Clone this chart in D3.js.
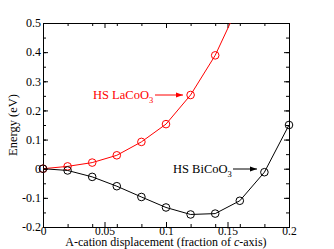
<!DOCTYPE html>
<html>
<head>
<meta charset="utf-8">
<script src="https://cdn.jsdelivr.net/npm/d3@7"></script>
<style>
  body { margin: 0; background: #fff; }
  svg text { font-family: "Liberation Serif", "Times New Roman", serif; }
</style>
</head>
<body>
<div id="container"></div>
<script>
const displacement = [0, 0.02, 0.04, 0.06, 0.08, 0.1, 0.12, 0.14, 0.16, 0.18, 0.2];
const laCoO3 = [0, 0.008, 0.021, 0.046, 0.092, 0.153, 0.253, 0.389, 0.57];
const biCoO3 = [0, -0.006, -0.028, -0.06, -0.097, -0.133, -0.157, -0.154, -0.11, -0.012, 0.15];
const xTicks = [0, 0.05, 0.1, 0.15, 0.2];
const yTicks = [-0.2, -0.1, 0, 0.1, 0.2, 0.3, 0.4, 0.5];

const serif = '"Liberation Serif", "Times New Roman", serif';
const w = 334;
const h = 249;
const margin = { top: 23, right: 45, bottom: 22, left: 43 };

const svg = d3
  .select("#container")
  .append("svg")
  .attr("width", w)
  .attr("height", h)
  .attr("font-family", serif);

//THE SCALES
const x = d3.scaleLinear().domain([0, 0.2]).range([margin.left, w - margin.right]);
const y = d3.scaleLinear().domain([-0.2, 0.5]).range([h - margin.bottom, margin.top]);

const fmt = d => d === 0 ? "0" : String(+d.toFixed(2));

//Minor ticks first, then major ticks with labels (all pointing inwards)
svg.append("g")
   .attr("transform", `translate(0, ${y(-0.2)})`)
   .call(d3.axisBottom(x).ticks(8).tickSize(-3).tickFormat(""));
svg.append("g")
   .attr("transform", `translate(0, ${y(0.5)})`)
   .call(d3.axisTop(x).ticks(8).tickSize(-3).tickFormat(""));
svg.append("g")
   .attr("transform", `translate(${x(0)}, 0)`)
   .call(d3.axisLeft(y).ticks(14).tickSize(-3).tickFormat(""));
svg.append("g")
   .attr("transform", `translate(${x(0.2)}, 0)`)
   .call(d3.axisRight(y).ticks(14).tickSize(-3).tickFormat(""));

svg.append("g")
   .attr("class", "xaxis")
   .attr("transform", `translate(0, ${y(-0.2)})`)
   .call(d3.axisBottom(x).tickValues(xTicks).tickSize(-5).tickPadding(0.5).tickFormat(fmt));
svg.append("g")
   .attr("transform", `translate(0, ${y(0.5)})`)
   .call(d3.axisTop(x).tickValues(xTicks).tickSize(-5).tickFormat(""));
svg.append("g")
   .attr("class", "yaxis")
   .attr("transform", `translate(${x(0)}, 0)`)
   .call(d3.axisLeft(y).tickValues(yTicks).tickSize(-5).tickPadding(2).tickFormat(fmt));
svg.append("g")
   .attr("transform", `translate(${x(0.2)}, 0)`)
   .call(d3.axisRight(y).tickValues(yTicks).tickSize(-5).tickFormat(""));

svg.selectAll("g").attr("font-family", serif);
svg.selectAll(".domain").attr("stroke", "#000");
svg.selectAll(".tick line").attr("stroke", "#000");
svg.selectAll(".tick text")
   .attr("font-size", 12)
   .attr("fill", "#000");
svg.selectAll(".xaxis .tick text").attr("font-size", 11.5).attr("dy", "0.68em");

//Clip the curves to the frame
svg.append("clipPath")
   .attr("id", "clip")
   .append("rect")
   .attr("x", x(0))
   .attr("y", y(0.5))
   .attr("width", x(0.2) - x(0))
   .attr("height", y(-0.2) - y(0.5));

const line = d3.line().x(d => x(d[0])).y(d => y(d[1]));

function drawSeries(values, color) {
  const pts = values.map((v, i) => [displacement[i], v]);
  const g = svg.append("g").attr("clip-path", "url(#clip)");
  g.append("path")
   .attr("d", line(pts))
   .attr("fill", "none")
   .attr("stroke", color)
   .attr("stroke-width", 1);
  svg.append("g")
   .selectAll("circle")
   .data(pts.filter(d => d[1] <= 0.5))
   .enter()
   .append("circle")
   .attr("cx", d => x(d[0]))
   .attr("cy", d => y(d[1]))
   .attr("r", 3.8)
   .attr("fill", "none")
   .attr("stroke", color)
   .attr("stroke-width", 1);
}

drawSeries(laCoO3, "#ff0000");
drawSeries(biCoO3, "#000000");

//ANNOTATIONS
svg.append("defs").selectAll("marker")
   .data([["arrRed", "#ff0000"], ["arrBlack", "#000"]])
   .enter()
   .append("marker")
   .attr("id", d => d[0])
   .attr("viewBox", "0 0 10 10")
   .attr("refX", 10)
   .attr("refY", 5)
   .attr("markerWidth", 7)
   .attr("markerHeight", 7)
   .attr("markerUnits", "userSpaceOnUse")
   .attr("orient", "auto")
   .append("path")
   .attr("d", "M0,1.5 L10,5 L0,8.5 Z")
   .attr("fill", d => d[1]);

function label(tx, ty, name, color, ax1, ax2, ay, marker) {
  const t = svg.append("text")
    .attr("x", tx)
    .attr("y", ty)
    .attr("font-size", 12.5)
    .attr("fill", color);
  t.append("tspan").text(name);
  t.append("tspan").attr("font-size", 8.5).attr("dy", 4).text("3");
  svg.append("line")
    .attr("x1", ax1).attr("x2", ax2)
    .attr("y1", ay).attr("y2", ay)
    .attr("stroke", color)
    .attr("stroke-width", 1)
    .attr("marker-end", `url(#${marker})`);
}

label(93, 99, "HS LaCoO", "#ff0000", 155, 183, 95, "arrRed");
label(173, 173, "HS BiCoO", "#000", 233, 257, 169, "arrBlack");

//AXIS TITLES
const xt = svg.append("text")
   .attr("x", (x(0) + x(0.2)) / 2)
   .attr("y", 246.3)
   .attr("text-anchor", "middle")
   .attr("font-size", 12);
xt.append("tspan").text("A-cation displacement (fraction of ");
xt.append("tspan").attr("font-style", "italic").text("c");
xt.append("tspan").text("-axis)");

svg.append("text")
   .attr("transform", `translate(17, ${(y(0.5) + y(-0.2)) / 2}) rotate(-90)`)
   .attr("text-anchor", "middle")
   .attr("font-size", 12.5)
   .text("Energy (eV)");
</script>
</body>
</html>
